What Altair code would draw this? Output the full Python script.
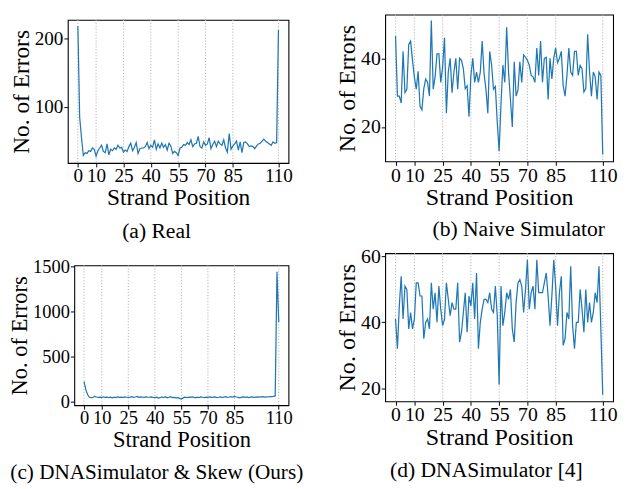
import altair as alt
import pandas as pd

# ---------------- data ----------------
positions = list(range(111))

real_errors = [
    219, 85, 55, 29, 33, 32, 36, 35, 40, 38,
    28, 36, 40, 44, 35, 33, 46, 30, 38, 36,
    40, 38, 44, 40, 41, 34, 37, 35, 42, 47,
    36, 41, 48, 32, 39, 40, 40, 42, 48, 39,
    44, 41, 52, 38, 46, 40, 47, 41, 45, 37,
    47, 43, 32, 35, 33, 29, 40, 41, 45, 44,
    48, 45, 52, 42, 46, 47, 57, 42, 40, 49,
    44, 46, 55, 39, 45, 50, 42, 50, 46, 44,
    52, 40, 34, 61, 38, 43, 46, 50, 37, 49,
    33, 48, 49, 46, 42, 43, 42, 39, 43, 46,
    47, 50, 53, 50, 48, 46, 44, 49, 47, 48,
    213,
]

naive_errors = [
    46.5, 29, 29, 27, 42, 30, 31, 44, 45, 39.4,
    34.6, 31, 36.2, 26, 25, 31.2, 34, 33, 29, 51,
    31, 34.6, 41.3, 41.3, 33, 37.5, 46, 24, 36, 40,
    30, 36, 40, 31, 40, 39.4, 37, 31.2, 32, 23,
    35, 40, 33, 36, 33, 36, 45, 35.5, 31, 24,
    42, 38, 31, 31.8, 21.3, 13, 27, 38, 33, 49,
    36, 28, 20, 39, 29, 30.8, 39, 33, 41, 40.3,
    39.4, 38, 35, 34.6, 33, 43, 35, 45, 33, 40,
    40.3, 28, 40, 34, 40, 43, 38.7, 40, 42, 32,
    29, 35, 43, 36, 35, 42, 42, 35, 37.9, 37,
    30.2, 31.2, 47, 36, 29, 36, 34.6, 28, 36, 35,
    12,
]

skew_errors = [
    220, 130, 75, 45, 40, 42, 55, 48, 44, 46,
    42, 50, 44, 47, 40, 45, 38, 46, 42, 48,
    44, 46, 41, 49, 45, 43, 47, 52, 45, 48,
    55, 44, 50, 46, 43, 48, 45, 47, 50, 44,
    42, 46, 35, 40, 48, 42, 50, 38, 45, 52,
    41, 44, 38, 40, 32, 25, 38, 45, 40, 47,
    43, 50, 44, 38, 46, 42, 48, 45, 41, 47,
    44, 50, 43, 46, 48, 42, 45, 49, 44, 47,
    51, 45, 48, 52, 46, 55, 48, 44, 38, 47,
    50, 45, 49, 42, 46, 48, 44, 47, 50, 46,
    49, 52, 47, 50, 48, 53, 51, 55, 60, 1440,
    880,
]

dnasim_errors = [
    41, 32, 45, 54, 41, 51, 50, 38, 43, 38,
    41, 52, 52, 48, 48, 35, 40, 41, 38, 52,
    44, 49, 40, 51, 44, 39, 41, 52, 47, 42,
    46, 44, 44, 52, 34, 37, 43, 49, 37, 48,
    45, 52, 41, 55, 32, 40, 44, 47, 47, 46,
    49, 44, 43, 51, 42, 21, 51, 39, 43, 49,
    47, 50, 38, 34, 46, 52, 53, 51, 43, 50,
    59, 44, 49, 51, 44, 59, 49, 49, 49, 52,
    55, 48, 39, 48, 59, 51, 39, 49, 54, 33,
    35, 43, 41, 57, 39, 32, 40, 40, 50, 44,
    37, 50, 40, 46, 40, 43, 49, 46, 57, 38,
    18,
]

x_ticks = [0, 10, 25, 40, 55, 70, 85, 110]
x_domain = [-5.5, 115.5]

captions = [
    "(a) Real",
    "(b) Naive Simulator",
    "(c) DNASimulator & Skew (Ours)",
    "(d) DNASimulator [4]",
]
y_domains = [[18, 228], [10, 52.7], [-43.6, 1511], [16, 61]]
y_tick_sets = [[100, 200], [20, 40], [0, 500, 1000, 1500], [20, 40, 60]]

SERIF = "Liberation Serif"
LINE_COLOR = "#1f77b4"


def panel(values, y_domain, y_ticks, caption, width, height,
          fs=1.0, cap_dx=0, cap_offset=12, cap_size=22):
    xs = alt.Scale(domain=x_domain, nice=False, zero=False)
    ys = alt.Scale(domain=y_domain, nice=False, zero=False)

    x_axis = alt.Axis(
        values=x_ticks, title="Strand Position", grid=False, domain=False,
        ticks=True, tickColor="black", tickSize=4, tickWidth=1,
        labelFont=SERIF, labelFontSize=19.5 * fs, labelColor="black",
        labelPadding=0, labelOverlap=False, labelFlush=False,
        titleFont=SERIF, titleFontSize=23.8 * fs, titleFontWeight="normal",
        titleColor="black", titlePadding=1)
    y_axis = alt.Axis(
        values=y_ticks, title="No. of Errors", grid=False, domain=False,
        format="d",
        ticks=True, tickColor="black", tickSize=4, tickWidth=1,
        labelFont=SERIF, labelFontSize=19.5 * fs, labelColor="black",
        labelPadding=1, labelOverlap=False, labelFlush=False,
        titleFont=SERIF, titleFontSize=23.8 * fs, titleFontWeight="normal",
        titleColor="black", titlePadding=1)

    df = pd.DataFrame({"pos": positions, "err": values})
    grid_df = pd.DataFrame({"pos": x_ticks})

    grid = alt.Chart(grid_df).mark_rule(
        color="#b5b5b5", strokeDash=[1.2, 1.8], strokeWidth=1
    ).encode(
        x=alt.X("pos:Q", scale=xs, axis=x_axis),
    )

    line = alt.Chart(df).mark_line(
        color=LINE_COLOR, strokeWidth=1.25
    ).encode(
        x=alt.X("pos:Q", scale=xs, axis=x_axis),
        y=alt.Y("err:Q", scale=ys, axis=y_axis),
    )

    return alt.layer(grid, line).properties(
        width=width, height=height,
        title=alt.TitleParams(
            text=caption, orient="bottom", anchor="middle", frame="group",
            font=SERIF, fontSize=cap_size, fontWeight="normal", color="black",
            dx=cap_dx, offset=cap_offset),
    )


def spacer():
    return alt.Chart(pd.DataFrame({"s": [0]})).mark_rule(
        strokeWidth=0, opacity=0
    ).encode(
        x=alt.value(0), x2=alt.value(0), y=alt.value(0), y2=alt.value(0)
    ).properties(width=1, height=1,
                 view=alt.ViewBackground(stroke="transparent"))


pa = panel(real_errors, y_domains[0], y_tick_sets[0], captions[0],
           225, 146, fs=1.0, cap_dx=-22, cap_offset=12)
pc = panel(skew_errors, y_domains[2], y_tick_sets[2], captions[2],
           218.4, 142.6, fs=0.963, cap_dx=-25.1, cap_offset=12,
           cap_size=21.6)
pb = panel(naive_errors, y_domains[1], y_tick_sets[1], captions[1],
           232.4, 149.7, fs=1.03, cap_dx=20, cap_offset=10)
pd_ = panel(dnasim_errors, y_domains[3], y_tick_sets[3], captions[3],
            232.4, 151, fs=1.03, cap_dx=-13, cap_offset=12)

# (a) sits a little lower than (b); (c) a little right of (a)
a_wrap = alt.vconcat(spacer(), pa, spacing=4.3, bounds="flush")
c_wrap = alt.hconcat(spacer(), pc, spacing=5.6, bounds="flush")

left = alt.vconcat(a_wrap, c_wrap, spacing=13.7)
right = alt.vconcat(pb, pd_, spacing=5.3)

chart = alt.hconcat(left, right, spacing=30.6).properties(
    padding={"left": 0, "top": 0, "right": 0, "bottom": 0}
).configure_view(
    stroke="black", strokeWidth=1.1
).configure_axis(
    titleFontWeight="normal", labelFontWeight="normal"
)

chart.save("out.html", embed_options={"renderer": "svg", "actions": False})
